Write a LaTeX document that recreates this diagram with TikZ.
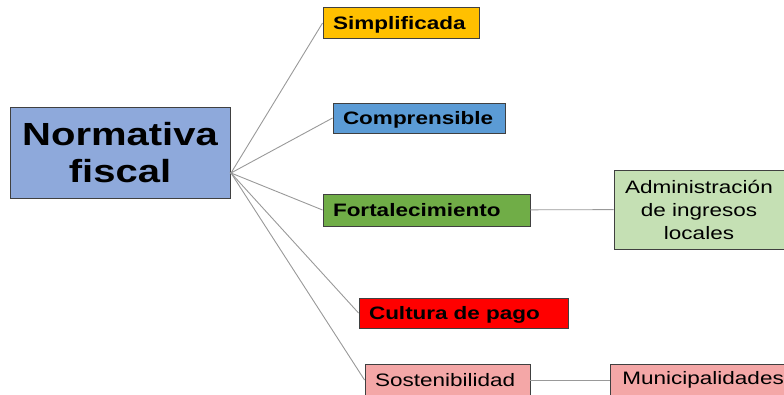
\documentclass[tikz,border=0pt]{standalone}
\usepackage{fontspec}
\setmainfont{Liberation Sans}[FakeStretch=1.25]
\usetikzlibrary{positioning}

\definecolor{normblue}{HTML}{8EA9DB}
\definecolor{simpyellow}{HTML}{FFC000}
\definecolor{compblue}{HTML}{5B9BD5}
\definecolor{fortgreen}{HTML}{70AD47}
\definecolor{adminggreen}{HTML}{C5E0B4}
\definecolor{cultred}{HTML}{FF0000}
\definecolor{sostpink}{HTML}{F4A7A7}

\tikzset{
	box/.style = {draw=black!75, line width=0.9pt, inner sep=0pt, align=center, font=\fontsize{18}{23}\selectfont},
	leftbox/.style = {box, inner xsep=10pt, text width=#1, align=left},
	boldbox/.style = {leftbox=#1, text height=14pt, text depth=1pt, font=\fontsize{18}{23}\selectfont\bfseries},
	link/.style = {draw=black!40, line width=0.9pt}
}

\begin{document}
\begin{tikzpicture}[x=1pt,y=-1pt]
				\useasboundingbox (0,0) rectangle (784,394);
				\clip (0,0) rectangle (784,394);
				\coordinate (hub) at (231,173);
				
				\node[box, fill=normblue, minimum width=220, minimum height=91, font=\fontsize{32}{37}\selectfont\bfseries] (norm) at (120,152.5) {Normativa\\fiscal};
				\node[boldbox=136, fill=simpyellow, minimum height=31] (simp) at (401,23) {Simplificada};
				\node[boldbox=152, fill=compblue, minimum height=30] (comp) at (419,118) {Comprensible};
				\node[boldbox=187, fill=fortgreen, minimum height=32] (fort) at (426.5,210) {Fortalecimiento};
				\node[box, fill=adminggreen, minimum width=170, minimum height=79] (admin) at (699,209.5) {Administración\\de ingresos\\locales};
				\node[boldbox=189, fill=cultred, minimum height=30] (cult) at (463.5,313) {Cultura de pago};
				\node[leftbox=145, fill=sostpink, minimum height=32] (sost) at (447.5,380) {Sostenibilidad};
				\node[box, fill=sostpink, anchor=west, inner xsep=12pt, minimum height=32] (muni) at (610,380) {Municipalidades};
				
				\draw[link] (simp.west) -- (hub) -- (comp.west);
				\draw[link] (fort.west) -- (hub) -- (cult.west);
				\draw[link] (hub) -- (sost.west);
				\draw[link] (fort) -- (admin);
				\draw[link] (sost) -- (muni);
			\end{tikzpicture}
\end{document}
